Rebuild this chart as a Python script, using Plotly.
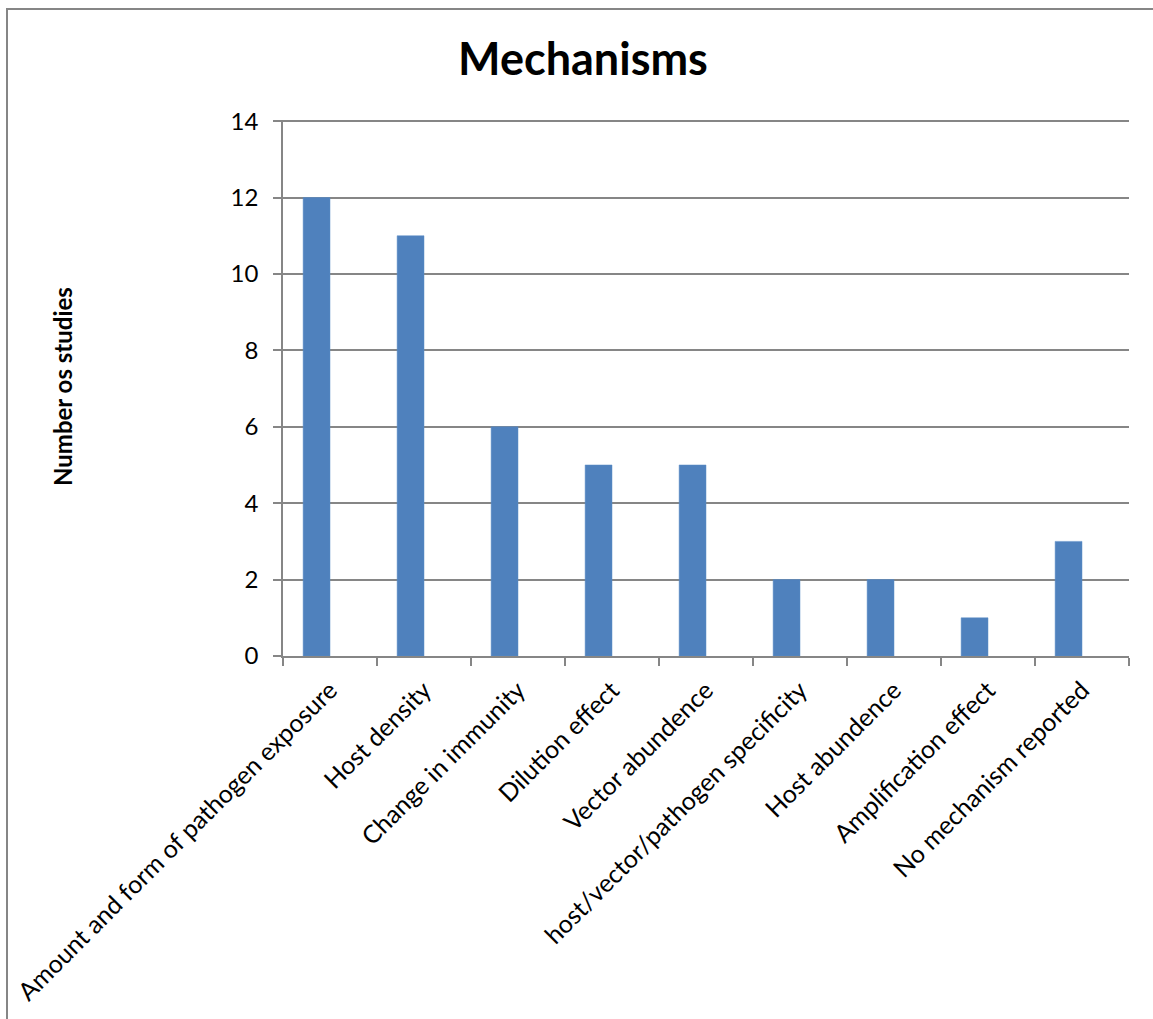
import plotly.graph_objects as go

# Mechanisms reported across studies
categories = [
    "Amount and form of pathogen exposure",
    "Host density",
    "Change in immunity",
    "Dilution effect",
    "Vector abundence",
    "host/vector/pathogen specificity",
    "Host abundence",
    "Amplification effect",
    "No mechanism reported",
]
study_counts = [12, 11, 6, 5, 5, 2, 2, 1, 3]
y_ticks = [0, 2, 4, 6, 8, 10, 12, 14]

W, H = 1153, 1019
# pixel frame of the plotting area (zero line at 656, top tick at 121)
L, R, B = 283, 24, 363
y_top = 14.03
px_per_unit = (656 - 121) / 14
T = H - B - int(round(px_per_unit * y_top))
plot_w = W - L - R
plot_h = H - T - B

GRAY = "#868686"
FONT = "Lato, 'Open Sans', sans-serif"

fig = go.Figure()
fig.add_trace(go.Bar(
    x=categories,
    y=study_counts,
    width=0.2857,
    offset=-0.2857,
    marker=dict(color="#4F81BD", line=dict(color="#5b8cc6", width=0.5)),
    showlegend=False,
))

def px_to_paper_x(px):
    return (px - L) / plot_w

def px_to_paper_y(py):
    return (H - B - py) / plot_h

fig.update_layout(
    width=W, height=H,
    margin=dict(l=L, r=R, t=T, b=B, pad=0),
    paper_bgcolor="white",
    plot_bgcolor="white",
    font=dict(family=FONT, color="black", size=24),
    title=dict(
        text="<b>Mechanisms</b>",
        x=583 / W, xanchor="center", xref="container",
        y=1 - 59 / H, yanchor="middle", yref="container",
        font=dict(family=FONT, size=45, color="black"),
    ),
    xaxis=dict(
        type="category",
        tickson="boundaries",
        ticks="outside", ticklen=8, tickcolor=GRAY, tickwidth=1.5,
        showline=True, linecolor=GRAY, linewidth=1.5,
        showgrid=False,
        tickangle=-45,
        ticklabelstandoff=8,
        tickfont=dict(family=FONT, size=25, color="black"),
    ),
    yaxis=dict(
        range=[0, y_top],
        tickvals=y_ticks,
        ticks="outside", ticklen=8, tickcolor=GRAY, tickwidth=1.5,
        showline=True, linecolor=GRAY, linewidth=1.5,
        showgrid=True, gridcolor=GRAY, gridwidth=1.5,
        zeroline=False,
        ticklabelstandoff=10,
        tickfont=dict(family=FONT, size=24, color="black"),
        automargin=False,
    ),
)

# Outer chart frame
fig.add_shape(
    type="rect", xref="paper", yref="paper",
    x0=px_to_paper_x(7), x1=px_to_paper_x(W + 20),
    y0=px_to_paper_y(H + 20), y1=px_to_paper_y(9),
    line=dict(color=GRAY, width=2), fillcolor="rgba(0,0,0,0)",
    layer="below",
)

# Vertical axis caption
fig.add_annotation(
    text="<b>Number os studies</b>", textangle=-90,
    xref="paper", yref="paper",
    x=px_to_paper_x(62), y=px_to_paper_y(387),
    xanchor="center", yanchor="middle", showarrow=False,
    font=dict(family=FONT, size=24, color="black"),
)

fig.write_html("out.html")
